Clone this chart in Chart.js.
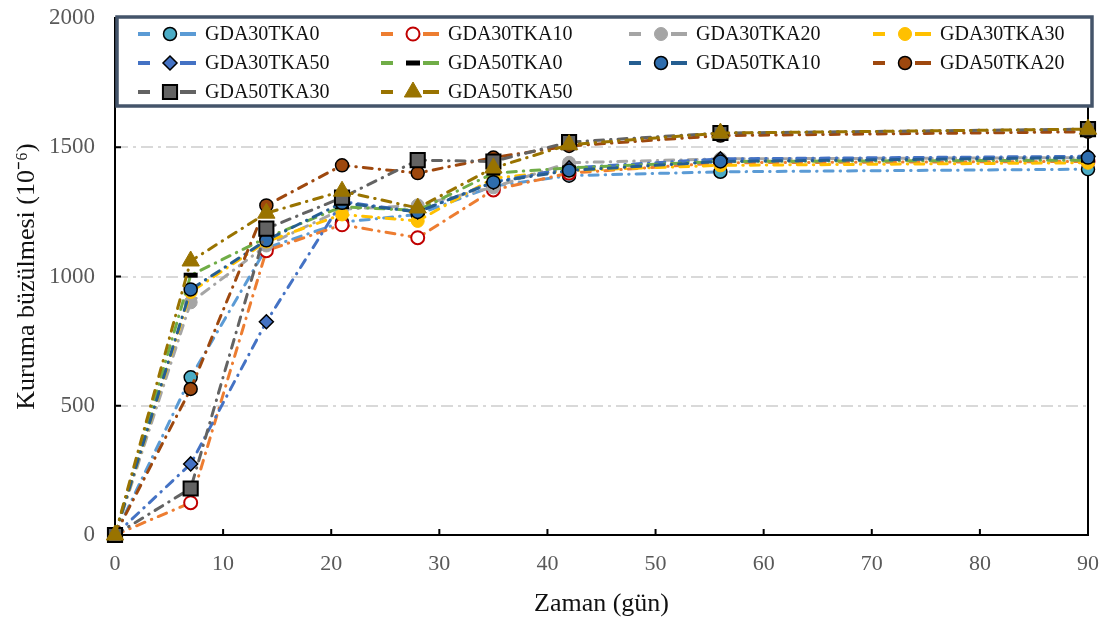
<!DOCTYPE html>
<html>
<head>
<meta charset="utf-8">
<title>Kuruma büzülmesi</title>
<script src="https://cdn.jsdelivr.net/npm/chart.js@4.4.0/dist/chart.umd.min.js"></script>
<style>
  html, body { margin: 0; padding: 0; background: #fff; }
</style>
</head>
<body>
<canvas id="chart" width="1106" height="624"></canvas>
<script>
// drying shrinkage (10^-6) against age in days
const days = [0, 7, 14, 21, 28, 35, 42, 56, 90]

const seriesNames = ['GDA30TKA0', 'GDA30TKA10', 'GDA30TKA20', 'GDA30TKA30', 'GDA30TKA50',
                     'GDA50TKA0', 'GDA50TKA10', 'GDA50TKA20', 'GDA50TKA30', 'GDA50TKA50']

const GDA30TKA0  = [0, 610, 1110, 1210, 1240, 1350, 1390, 1405, 1415]
const GDA30TKA10 = [0, 125, 1100, 1200, 1150, 1335, 1400, 1440, 1445]
const GDA30TKA20 = [0, 900, 1120, 1260, 1275, 1345, 1440, 1455, 1460]
const GDA30TKA30 = [0, 940, 1135, 1240, 1215, 1380, 1410, 1430, 1440]
const GDA30TKA50 = [0, 275, 825, 1290, 1250, 1365, 1420, 1455, 1465]
const GDA50TKA0  = [0, 1005, 1150, 1270, 1255, 1400, 1420, 1445, 1450]
const GDA50TKA10 = [0, 950, 1140, 1285, 1250, 1365, 1410, 1445, 1460]
const GDA50TKA20 = [0, 565, 1275, 1430, 1400, 1460, 1505, 1545, 1560]
const GDA50TKA30 = [0, 180, 1185, 1305, 1450, 1445, 1520, 1555, 1570]
const GDA50TKA50 = [0, 1060, 1245, 1330, 1265, 1420, 1510, 1555, 1570]

const seriesValues = [GDA30TKA0, GDA30TKA10, GDA30TKA20, GDA30TKA30, GDA30TKA50,
                      GDA50TKA0, GDA50TKA10, GDA50TKA20, GDA50TKA30, GDA50TKA50]

// line colour, marker shape, marker fill, marker outline, outline width, marker radius
const styles = [
    { line: '#5B9BD5', shape: 'circle',   fill: '#4BACC6', edge: '#000', ew: 1.5, r: 6.5 },
    { line: '#ED7D31', shape: 'circle',   fill: '#fff',    edge: '#C00000', ew: 2, r: 6.5 },
    { line: '#A5A5A5', shape: 'circle',   fill: '#A5A5A5', edge: '#A5A5A5', ew: 1, r: 6.5 },
    { line: '#FFC000', shape: 'circle',   fill: '#FFC000', edge: '#FFC000', ew: 1, r: 6.5 },
    { line: '#4472C4', shape: 'rectRot',  fill: '#4472C4', edge: '#000', ew: 1.5, r: 7 },
    { line: '#70AD47', shape: 'line',     fill: '#000',    edge: '#000', ew: 5, r: 7 },
    { line: '#255E91', shape: 'circle',   fill: '#2E6DAE', edge: '#000', ew: 1.5, r: 6.5 },
    { line: '#9E480E', shape: 'circle',   fill: '#9E480E', edge: '#000', ew: 1.5, r: 6.5 },
    { line: '#636363', shape: 'rect',     fill: '#636363', edge: '#000', ew: 2, r: 10 },
    { line: '#997300', shape: 'triangle', fill: '#997300', edge: '#997300', ew: 1, r: 10 },
]

const serif = "'Liberation Serif', 'Times New Roman', serif"

const datasets = seriesNames.map((name, i) => ({
    label: name,
    data: days.map((d, k) => ({ x: d, y: seriesValues[i][k] })),
    borderColor: styles[i].line,
    borderWidth: 3,
    borderDash: [9, 7, 0.5, 7],
    borderCapStyle: 'round',
    pointStyle: styles[i].shape,
    pointRadius: styles[i].r,
    pointBackgroundColor: styles[i].fill,
    pointBorderColor: styles[i].edge,
    pointBorderWidth: styles[i].ew,
    tension: 0,
    clip: false,
    order: seriesNames.length - i,   // later series on top
}))

function drawMarker(ctx, s, x, y) {
    ctx.save()
    ctx.fillStyle = s.fill
    ctx.strokeStyle = s.edge
    ctx.lineWidth = s.ew
    ctx.beginPath()
    if (s.shape === 'circle') {
        ctx.arc(x, y, s.r, 0, Math.PI * 2)
    } else if (s.shape === 'rect') {
        const h = s.r * Math.SQRT1_2
        ctx.rect(x - h, y - h, 2 * h, 2 * h)
    } else if (s.shape === 'rectRot') {
        ctx.moveTo(x, y - s.r); ctx.lineTo(x + s.r, y); ctx.lineTo(x, y + s.r); ctx.lineTo(x - s.r, y)
        ctx.closePath()
    } else if (s.shape === 'triangle') {
        const w = s.r * Math.sin(Math.PI / 3)
        ctx.moveTo(x, y - s.r); ctx.lineTo(x + w, y + s.r / 2); ctx.lineTo(x - w, y + s.r / 2)
        ctx.closePath()
    } else if (s.shape === 'line') {
        ctx.moveTo(x - s.r, y); ctx.lineTo(x + s.r, y)
        ctx.stroke()
        ctx.restore()
        return
    }
    ctx.fill()
    ctx.stroke()
    ctx.restore()
}

const frame = {
    id: 'frame',
    beforeDatasetsDraw(chart) {
        const { ctx, chartArea: a, scales: { x, y } } = chart
        ctx.save()
        ctx.strokeStyle = '#000'
        ctx.lineWidth = 2
        ctx.beginPath()
        ctx.moveTo(a.right, a.top)
        ctx.lineTo(a.right, a.bottom)
        // tick marks point into the plot
        for (let v = 0; v <= 90; v += 10) {
            const px = x.getPixelForValue(v)
            ctx.moveTo(px, a.bottom)
            ctx.lineTo(px, a.bottom - 6)
        }
        for (let v = 500; v < 2000; v += 500) {
            const py = y.getPixelForValue(v)
            ctx.moveTo(a.left, py)
            ctx.lineTo(a.left + 6, py)
        }
        ctx.stroke()
        ctx.restore()
    },
    afterDraw(chart) {
        const { ctx, chartArea: a } = chart
        // legend panel across the top of the plot
        const bx = a.left + 2, by = a.top - 1, bw = 975, bh = 89
        ctx.save()
        ctx.fillStyle = '#fff'
        ctx.fillRect(bx, by, bw, bh)
        ctx.strokeStyle = '#44546A'
        ctx.lineWidth = 3.5
        ctx.strokeRect(bx, by, bw, bh)
        const colX = [170, 413, 661, 905]
        const rowY = [34, 63, 92]
        ctx.font = '20px ' + serif
        ctx.textBaseline = 'middle'
        chart.data.datasets.forEach((ds, i) => {
            const cx = colX[i % 4], cy = rowY[Math.floor(i / 4)]
            const s = styles[i]
            ctx.strokeStyle = s.line
            ctx.lineWidth = 4
            ctx.lineCap = 'butt'
            ctx.beginPath()
            ctx.moveTo(cx - 32, cy); ctx.lineTo(cx - 20, cy)
            ctx.moveTo(cx + 10, cy); ctx.lineTo(cx + 26, cy)
            ctx.stroke()
            drawMarker(ctx, s, cx, cy)
            ctx.fillStyle = '#111'
            ctx.fillText(ds.label, cx + 35, cy + 1)
        })
        ctx.restore()
    },
}

new Chart(document.getElementById('chart'), {
    type: 'line',
    data: { datasets },
    plugins: [frame],
    options: {
        responsive: false,
        animation: false,
        events: [],
        layout: { padding: { top: 18, right: 18, left: 0, bottom: 0 } },
        plugins: { legend: { display: false }, tooltip: { enabled: false } },
        scales: {
            x: {
                type: 'linear',
                min: 0,
                max: 90,
                afterFit: (s) => { s.height = 89; s.paddingLeft = 0; s.paddingRight = 0 },
                ticks: { stepSize: 10, padding: 8, color: '#595959', font: { family: serif, size: 22 } },
                grid: { display: false },
                border: { display: true, color: '#000', width: 2 },
                title: { display: true, text: 'Zaman (gün)', color: '#111', font: { family: serif, size: 26 }, padding: { top: 0, bottom: 4 } },
            },
            y: {
                min: 0,
                max: 2000,
                afterFit: (s) => { s.width = 115; s.paddingTop = 0; s.paddingBottom = 0 },
                ticks: {
                    stepSize: 500,
                    padding: 20,
                    color: '#595959',
                    font: { family: serif, size: 23 },
                    callback: (v) => String(v),
                },
                grid: {
                    drawTicks: false,
                    lineWidth: 2,
                    color: (c) => (c.tick && c.tick.value > 0 && c.tick.value < 2000 ? '#D9D9D9' : 'rgba(0,0,0,0)'),
                },
                border: { display: true, color: '#000', width: 2, dash: [12, 5, 3, 5] },
                title: { display: true, text: 'Kuruma büzülmesi (10⁻⁶)', color: '#111', font: { family: serif, size: 26 }, padding: { top: 12, bottom: 0 } },
            },
        },
    },
})
</script>
</body>
</html>
